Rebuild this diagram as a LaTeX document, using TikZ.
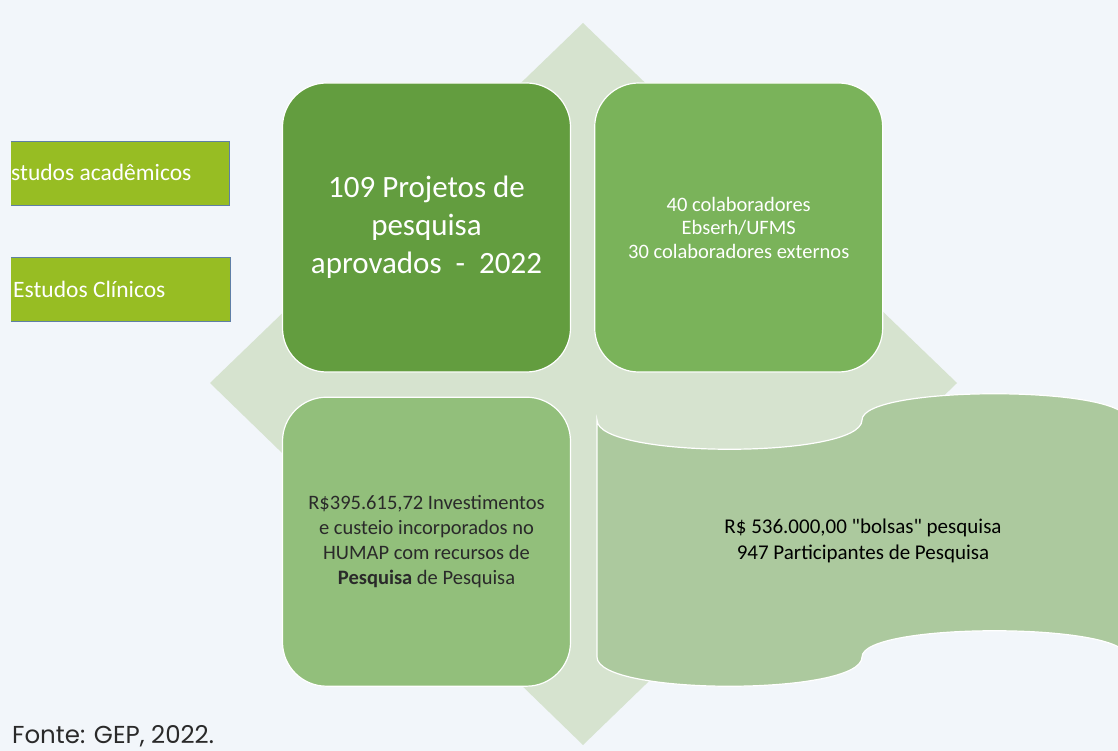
\documentclass[tikz,border=0pt]{standalone}
\usepackage{fontspec}
\newfontfamily\calibri{Carlito}
\newfontfamily\poppins{Poppins}
\usetikzlibrary{positioning}

\definecolor{fundo}{HTML}{F2F6FA}
\definecolor{losango}{HTML}{D6E3CF}
\definecolor{verdeA}{HTML}{639D3F}
\definecolor{verdeB}{HTML}{7AB35A}
\definecolor{verdeC}{HTML}{92BF7B}
\definecolor{verdeD}{HTML}{ACC99E}
\definecolor{lima}{HTML}{97BD23}
\definecolor{bordaazul}{HTML}{5F7FA6}
\definecolor{escuro}{HTML}{2A2A2A}

\begin{document}
\begin{tikzpicture}[x=1pt, y=-1pt,
	quadro/.style={draw=white, line width=1.2pt, rounded corners=44pt,
		minimum width=288pt, minimum height=289pt, align=center, inner sep=0pt},
	caixa/.style={fill=lima, draw=bordaazul, line width=1pt,
		minimum width=240pt, minimum height=64pt, inner sep=0pt},
	rotulo/.style={text=white, font=\calibri\fontsize{23.5}{28}\selectfont, inner sep=0pt}]
	
	% Page and background.
	\useasboundingbox (0,0) rectangle (1118,751);
	\clip (0,0) rectangle (1118,751);
	\fill[fundo] (0,0) rectangle (1118,751);
	
	% Draw the diamond behind the blocks.
	\fill[losango] (583,23) -- (957,383) -- (583,745) -- (210,383) -- cycle;
	
	% Draw the left boxes (cut at the left edge).
	\begin{scope}
		\clip (11,0) rectangle (300,751);
		\node[caixa, anchor=north east] (academicos) at (230,141) {};
		\node[caixa, anchor=north east] (clinicos) at (231,257) {};
	\end{scope}
	\node[rotulo, anchor=base west] (txtacad) at (11,181) {studos acadêmicos};
	\node[rotulo, anchor=base west] (txtclin) at (13,297) {Estudos Clínicos};
	
	% Draw the three rounded blocks.
	\node[quadro, fill=verdeA, text=white, font=\calibri\fontsize{31}{38}\selectfont]
		(projetos) at (426.5,227.5) {109 Projetos de\\pesquisa\\aprovados \ - \ 2022};
	\node[quadro, fill=verdeB, text=white, font=\calibri\fontsize{20.5}{23.5}\selectfont,
		right=23pt of projetos]
		(colab) {40 colaboradores\\Ebserh/UFMS\\30 colaboradores externos};
	\node[quadro, fill=verdeC, text=escuro, font=\calibri\fontsize{20.5}{25}\selectfont,
		below=24pt of projetos]
		(invest) {R\$395.615,72 Investimentos\\e custeio incorporados no\\HUMAP com recursos de\\\textbf{Pesquisa} de Pesquisa};
	
	% Draw the wave block.
	\filldraw[fill=verdeD, draw=white, line width=1.2pt]
		(597,420) .. controls (597,459) and (862,459) .. (862,420)
		.. controls (862,385) and (1127,385) .. (1127,420) -- (1127,657)
		.. controls (1127,622) and (862,622) .. (862,657)
		.. controls (862,696) and (597,696) .. (597,657) -- cycle;
	\node[align=center, text=black, font=\calibri\fontsize{21}{26}\selectfont, inner sep=0pt]
		(bolsas) at (863,541) {R\$ 536.000,00 "bolsas" pesquisa\\947 Participantes de Pesquisa};
	
	% Source line.
	\node[anchor=base west, inner sep=0pt, text=escuro, font=\poppins\fontsize{24.5}{28}\selectfont]
		(fonte) at (12,743) {Fonte: GEP, 2022.};
	
\end{tikzpicture}
\end{document}
